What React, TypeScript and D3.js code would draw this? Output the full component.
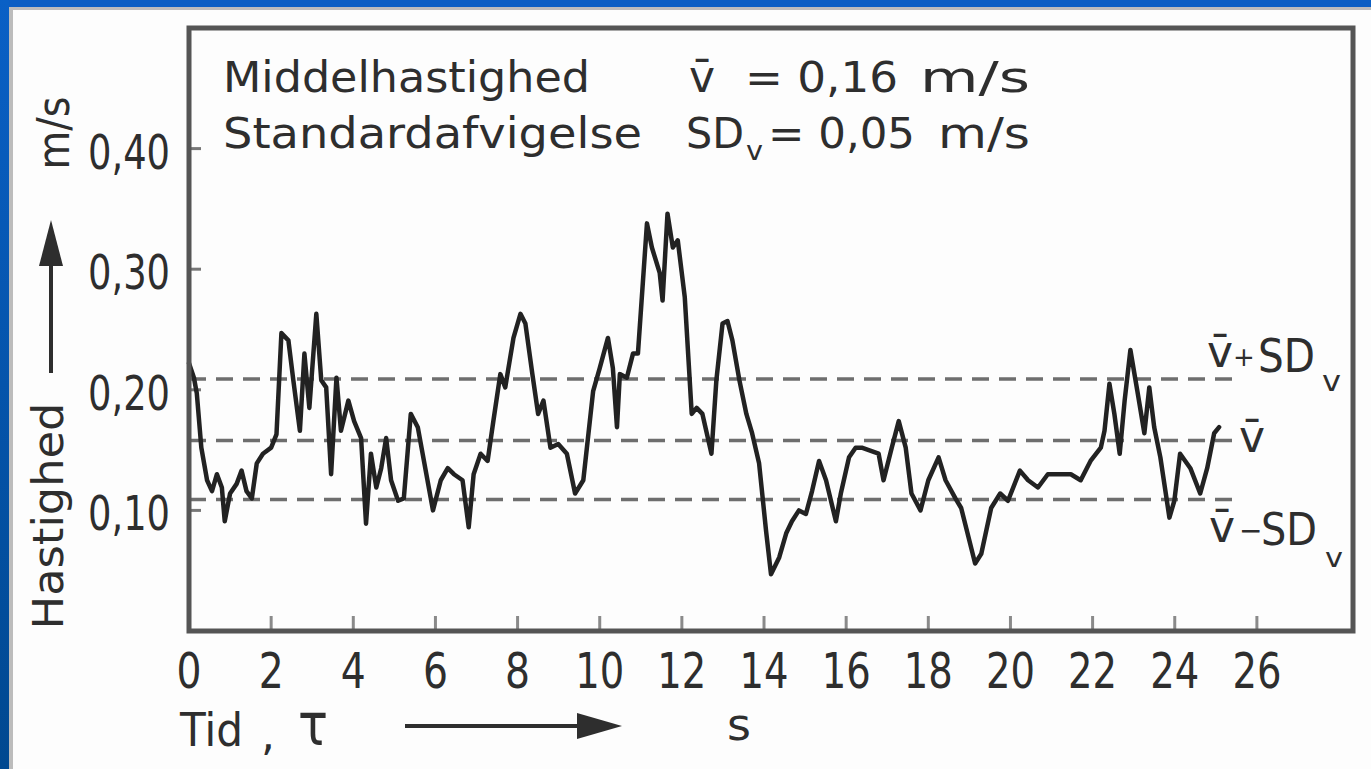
import React from 'react';
import * as d3 from 'd3';

// ---- data ----
const timeS = [
  0.0, 0.12, 0.19, 0.3, 0.44, 0.56, 0.68, 0.8, 0.87, 1.0, 1.16, 1.28, 1.4, 1.53, 1.65, 1.8, 2.0, 2.13,
  2.25, 2.42, 2.54, 2.7, 2.81, 2.93, 3.1, 3.22, 3.34, 3.46, 3.59, 3.7, 3.88, 4.02, 4.19, 4.31, 4.43,
  4.56, 4.68, 4.8, 4.92, 5.09, 5.23, 5.4, 5.57, 5.72, 5.94, 6.13, 6.3, 6.45, 6.66, 6.81, 6.93, 7.1,
  7.27, 7.41, 7.58, 7.7, 7.9, 8.07, 8.19, 8.36, 8.5, 8.63, 8.8, 8.99, 9.2, 9.4, 9.6, 9.84, 10.0,
  10.2, 10.32, 10.42, 10.49, 10.66, 10.81, 10.93, 11.15, 11.27, 11.46, 11.53, 11.65, 11.78, 11.9,
  12.07, 12.24, 12.36, 12.5, 12.72, 12.84, 12.99, 13.11, 13.23, 13.4, 13.57, 13.71, 13.88, 14.05,
  14.17, 14.37, 14.54, 14.68, 14.85, 15.02, 15.17, 15.34, 15.51, 15.75, 15.87, 16.07, 16.23, 16.38,
  16.55, 16.79, 16.91, 17.11, 17.28, 17.45, 17.59, 17.81, 18.0, 18.25, 18.42, 18.66, 18.8, 19.14,
  19.29, 19.53, 19.75, 19.94, 20.23, 20.43, 20.67, 20.91, 21.15, 21.47, 21.71, 21.95, 22.2, 22.29,
  22.41, 22.53, 22.66, 22.78, 22.92, 23.09, 23.26, 23.38, 23.5, 23.65, 23.87, 23.99, 24.13, 24.38,
  24.62, 24.79, 24.96, 25.08,
];
const speed = [
  0.222, 0.21, 0.197, 0.152, 0.125, 0.116, 0.13, 0.119, 0.091, 0.114, 0.122, 0.133, 0.116, 0.11, 0.139,
  0.147, 0.152, 0.163, 0.247, 0.241, 0.208, 0.166, 0.23, 0.185, 0.263, 0.208, 0.202, 0.13, 0.21, 0.166,
  0.191, 0.174, 0.16, 0.089, 0.147, 0.119, 0.135, 0.16, 0.125, 0.108, 0.11, 0.18, 0.169, 0.141, 0.1,
  0.125, 0.135, 0.13, 0.125, 0.086, 0.13, 0.147, 0.141, 0.174, 0.213, 0.202, 0.243, 0.263, 0.255,
  0.213, 0.18, 0.191, 0.152, 0.155, 0.147, 0.114, 0.125, 0.199, 0.218, 0.243, 0.218, 0.169, 0.213,
  0.21, 0.23, 0.23, 0.338, 0.318, 0.297, 0.274, 0.346, 0.318, 0.324, 0.277, 0.18, 0.185, 0.18, 0.147,
  0.208, 0.255, 0.257, 0.241, 0.208, 0.18, 0.164, 0.139, 0.083, 0.047, 0.061, 0.081, 0.091, 0.1, 0.097,
  0.116, 0.141, 0.125, 0.091, 0.114, 0.144, 0.152, 0.152, 0.15, 0.147, 0.125, 0.152, 0.174, 0.152,
  0.114, 0.1, 0.125, 0.144, 0.125, 0.11, 0.102, 0.056, 0.064, 0.102, 0.114, 0.108, 0.133, 0.125, 0.119,
  0.13, 0.13, 0.13, 0.125, 0.141, 0.152, 0.166, 0.205, 0.18, 0.147, 0.191, 0.233, 0.199, 0.164, 0.202,
  0.169, 0.144, 0.094, 0.108, 0.147, 0.135, 0.114, 0.135, 0.164, 0.169,
];
const xTicks = [0, 2, 4, 6, 8, 10, 12, 14, 16, 18, 20, 22, 24, 26];
const yTicks = [0.1, 0.2, 0.3, 0.4];
const yTickLabels = ['0,10', '0,20', '0,30', '0,40'];
const refValues = [0.209, 0.158, 0.109]; // v̄+SD, v̄, v̄−SD
const refEnd = 25.4;

const FONT = "'DejaVu Sans', 'Liberation Sans', sans-serif";
const INK = '#2e2e2e';
const VBAR = 'v\u0304';

export default function App() {
  const x = d3.scaleLinear().domain([0, 28.34]).range([189, 1353]);
  const y = d3.scaleLinear().domain([0, 0.5]).range([631, 28]);
  const pts = timeS.map((t, i) => [t, speed[i]] as [number, number]);
  const line = d3
    .line<[number, number]>()
    .x((d) => x(d[0]))
    .y((d) => y(d[1]));

  const [x0, x1] = x.range();
  const [yb, yt] = y.range();

  return (
    <svg
      width={1371}
      height={769}
      style={{ position: 'absolute', left: 0, top: 0, display: 'block' }}
      fontFamily={FONT}
    >
      <defs>
        <linearGradient id="blueSide" x1="0" y1="0" x2="0" y2="1">
          <stop offset="0" stopColor="#0a60c6" />
          <stop offset="1" stopColor="#004890" />
        </linearGradient>
      </defs>
      <rect x={0} y={0} width={1371} height={769} fill="#fdfdfd" />
      {/* slide frame */}
      <rect x={0} y={0} width={1371} height={7} fill="#0b5ec4" />
      <rect x={0} y={0} width={9} height={769} fill="url(#blueSide)" />
      <rect x={9} y={7} width={1362} height={3} fill="#bcbcbc" />
      <rect x={9} y={7} width={4} height={762} fill="#bcbcbc" />

      {/* reference dashed lines */}
      {refValues.map((v, i) => (
        <line
          key={'ref' + i}
          x1={x0}
          x2={x(refEnd)}
          y1={y(v)}
          y2={y(v)}
          stroke="#6e6e6e"
          strokeWidth={3.5}
          strokeDasharray="17 10"
        />
      ))}

      {/* ticks */}
      {xTicks.slice(1).map((t) => (
        <line key={'xt' + t} x1={x(t)} x2={x(t)} y1={yb} y2={yb - 15} stroke="#8a8a8a" strokeWidth={3} />
      ))}
      {yTicks.map((v) => (
        <line key={'yt' + v} x1={x0} x2={x0 + 12} y1={y(v)} y2={y(v)} stroke="#777" strokeWidth={3} />
      ))}

      {/* trace */}
      <path
        d={line(pts) || ''}
        fill="none"
        stroke="#222"
        strokeWidth={4.5}
        strokeLinejoin="round"
        strokeLinecap="round"
      />

      {/* plot frame */}
      <rect x={x0} y={yt} width={x1 - x0} height={yb - yt} fill="none" stroke="#555" strokeWidth={5} />

      {/* x tick labels */}
      {xTicks.map((t) => (
        <text
          key={'xl' + t}
          x={x(t)}
          y={688}
          textAnchor="middle"
          fontSize={50}
          fill={INK}
          textLength={t >= 10 ? 49 : 25}
          lengthAdjust="spacingAndGlyphs"
        >
          {String(t)}
        </text>
      ))}

      {/* y tick labels */}
      {yTicks.map((v, i) => (
        <text
          key={'yl' + v}
          x={170}
          y={y(v) + 20}
          textAnchor="end"
          fontSize={48}
          fill={INK}
          textLength={82}
          lengthAdjust="spacingAndGlyphs"
        >
          {yTickLabels[i]}
        </text>
      ))}

      {/* y axis title */}
      <text
        transform="translate(63,516) rotate(-90)"
        textAnchor="middle"
        fontSize={42}
        fill={INK}
        textLength={227}
        lengthAdjust="spacingAndGlyphs"
      >
        Hastighed
      </text>
      <line x1={51} x2={51} y1={373} y2={262} stroke={INK} strokeWidth={4} />
      <polygon points="51,220 39,266 63,266" fill={INK} />
      <text
        transform="translate(69,133) rotate(-90)"
        textAnchor="middle"
        fontSize={44}
        fill={INK}
        textLength={73}
        lengthAdjust="spacingAndGlyphs"
      >
        m/s
      </text>

      {/* x axis title */}
      <text x={180} y={746} fontSize={46} fill={INK} textLength={63} lengthAdjust="spacingAndGlyphs">
        Tid
      </text>
      <text x={261} y={750} fontSize={44} fill={INK}>
        ,
      </text>
      <text x={298} y={745} fontSize={58} fill={INK} textLength={30} lengthAdjust="spacingAndGlyphs">
        τ
      </text>
      <line x1={405} x2={585} y1={726} y2={726} stroke={INK} strokeWidth={4} />
      <polygon points="622,726 577,713 577,739" fill={INK} />
      <text x={727} y={740} fontSize={44} fill={INK} textLength={24} lengthAdjust="spacingAndGlyphs">
        s
      </text>

      {/* statistics box text */}
      <g fill={INK}>
        <text x={223} y={92} fontSize={42} textLength={367} lengthAdjust="spacingAndGlyphs">
          Middelhastighed
        </text>
        <text x={689} y={92} fontSize={44}>
          {VBAR}
        </text>
        <text x={745} y={92} fontSize={42} textLength={153} lengthAdjust="spacingAndGlyphs">
          = 0,16
        </text>
        <text x={920} y={92} fontSize={42} textLength={110} lengthAdjust="spacingAndGlyphs">
          m/s
        </text>

        <text x={223} y={148} fontSize={42} textLength={419} lengthAdjust="spacingAndGlyphs">
          Standardafvigelse
        </text>
        <text x={686} y={148} fontSize={42} textLength={58} lengthAdjust="spacingAndGlyphs">
          SD
        </text>
        <text x={746} y={160} fontSize={26} textLength={17} lengthAdjust="spacingAndGlyphs">
          v
        </text>
        <text x={768} y={148} fontSize={42} textLength={147} lengthAdjust="spacingAndGlyphs">
          = 0,05
        </text>
        <text x={938} y={148} fontSize={42} textLength={92} lengthAdjust="spacingAndGlyphs">
          m/s
        </text>
      </g>

      {/* reference line labels */}
      <g fill={INK}>
        <text x={1207} y={367} fontSize={44}>
          {VBAR}
        </text>
        <text x={1233} y={366} fontSize={26}>
          +
        </text>
        <text x={1258} y={372} fontSize={46} textLength={57} lengthAdjust="spacingAndGlyphs">
          SD
        </text>
        <text x={1322} y={391} fontSize={28} textLength={19} lengthAdjust="spacingAndGlyphs">
          v
        </text>

        <text x={1239} y={452} fontSize={44}>
          {VBAR}
        </text>

        <text x={1209} y={542} fontSize={44}>
          {VBAR}
        </text>
        <text x={1239} y={540} fontSize={28}>
          −
        </text>
        <text x={1261} y={545} fontSize={44} textLength={56} lengthAdjust="spacingAndGlyphs">
          SD
        </text>
        <text x={1325} y={567} fontSize={27} textLength={18} lengthAdjust="spacingAndGlyphs">
          v
        </text>
      </g>
    </svg>
  );
}
